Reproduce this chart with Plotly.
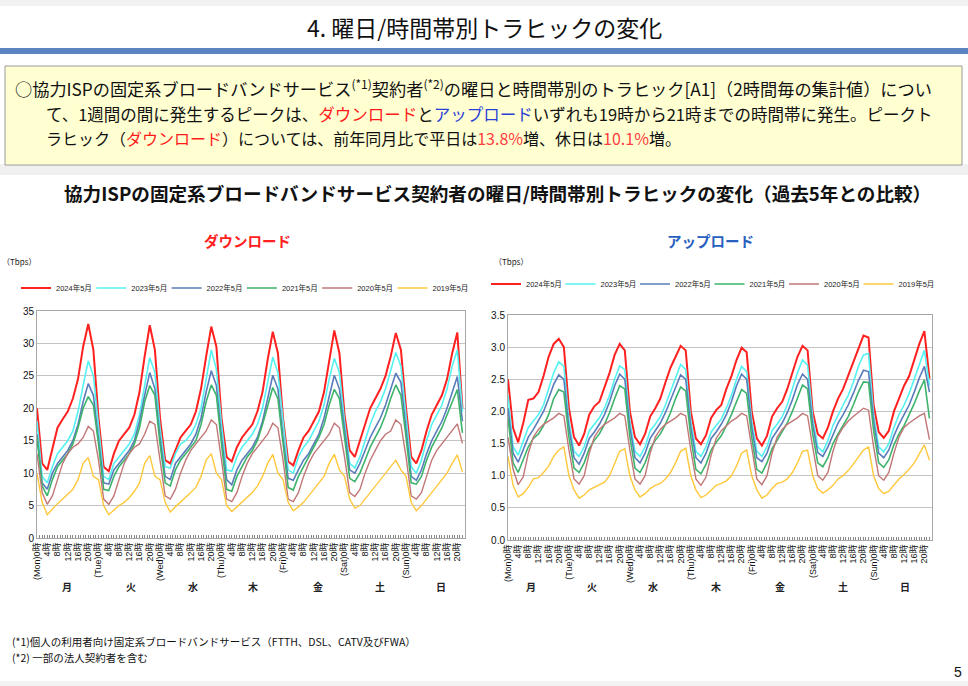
import plotly.graph_objects as go

W, H = 968, 686

YEARS = ["2024年5月", "2023年5月", "2022年5月", "2021年5月", "2020年5月", "2019年5月"]
COLORS = ["#ff2020", "#55f2f2", "#5a7cba", "#3db36b", "#c27777", "#ffc83c"]
WIDTHS = [2.0, 1.6, 1.6, 1.6, 1.4, 1.4]
DAYS_EN = ["Mon", "Tue", "Wed", "Thu", "Fri", "Sat", "Sun"]
DAYS_JP = ["月", "火", "水", "木", "金", "土", "日"]

# hour-of-week of each 2-hour aggregate
HOURS = list(range(0, 168, 2))
TICK_VALS = list(range(0, 168, 4))
TICK_TEXT = [("(" + DAYS_EN[h // 24] + ")0時") if h % 24 == 0 else (str(h % 24) + "時") for h in TICK_VALS]

# ---------------- Download (Tbps) ----------------
DL_2024 = [20, 11.5, 10.5, 14, 17, 18.3, 19.5, 21.5, 24.5, 29.5, 33, 29,
           18.5, 11, 10.3, 13, 15, 16, 17, 19, 22.5, 28, 32.8, 29,
           18.5, 12, 11.5, 13.5, 15.5, 16.5, 17.5, 19.5, 23, 28, 32.6, 29.5,
           18.5, 12.5, 11.8, 14, 15.5, 16.5, 17.5, 19.5, 22.5, 27.5, 31.8, 28.5,
           18.5, 11.8, 11.2, 13.5, 15.5, 16.5, 18, 19.5, 22.5, 27.5, 32, 28.5,
           19, 13.5, 12.5, 15, 17.5, 20, 21.5, 23, 25, 28, 31.6, 29,
           20, 12.5, 11.5, 13.5, 16.5, 19, 20.5, 22, 24.5, 28.5, 31.7, 20]
DL_2023 = [18, 9.5, 8.5, 11, 13, 14, 15, 16.5, 19.5, 23.5, 27.3, 25,
           17, 9.5, 9, 11.5, 12.5, 13.5, 14.5, 16, 19, 23.5, 27.8, 25.5,
           17, 11, 10.8, 13, 14.5, 15, 16, 17.5, 20, 24.5, 29, 26,
           17.5, 10.5, 10.3, 12.5, 14, 15, 16, 17.5, 20, 24, 27.9, 25.5,
           17.5, 10.5, 10, 12.5, 14, 15, 16.5, 18, 20.5, 24.5, 27.7, 25.5,
           18, 11.5, 10.8, 12.5, 15, 17.5, 19.5, 21, 23, 26, 28.6, 26.5,
           19, 11, 10, 12, 15, 17.5, 19, 20.5, 23, 26.5, 29, 19.5]
DL_2022 = [16, 8.5, 7.5, 10, 11.5, 12.5, 13.5, 15, 17.5, 21, 23.8, 22,
           15.5, 8.5, 8.3, 10.5, 11.5, 12.5, 13.5, 15, 18, 22, 25.5, 23,
           15.5, 9.5, 9, 11.5, 12.5, 13.5, 14.5, 16, 18.5, 22.5, 25.8, 23.5,
           15.5, 9, 8.2, 10.5, 12, 13, 14, 15.5, 18, 21.5, 25.1, 23,
           15.5, 9.2, 8.9, 10.5, 12, 13, 14.5, 16, 18.5, 22, 25.1, 23,
           16.5, 10.5, 10, 11.5, 13.5, 15.5, 17, 18.5, 20.5, 23, 25.4, 24,
           17, 9.5, 8.9, 10.5, 13, 15, 16.5, 18, 20, 22.5, 24.9, 18]
DL_2021 = [15.5, 8, 6.5, 9, 11, 12, 13, 14.5, 17, 20, 21.8, 20.5,
           14.5, 7.5, 7.3, 9.5, 11, 12, 13, 14.5, 17, 21, 23.5, 22,
           14.5, 8.5, 8, 10.5, 12, 13, 14, 15, 17.5, 21, 23.6, 22,
           14.5, 7.5, 7.2, 9.5, 11, 12.5, 13.5, 15, 17.5, 20.5, 23.2, 21.5,
           14.5, 7.8, 7.4, 9.5, 11, 12.5, 14, 15.5, 17.5, 20.5, 22.9, 21.5,
           15.5, 9.2, 8.7, 10, 12, 14, 15.5, 17, 19, 21.5, 23.6, 22,
           15.5, 8.5, 8.3, 9.5, 12, 14, 15.5, 17, 19, 21, 22.9, 16.2]
DL_2020 = [13, 7, 5.2, 6.5, 9, 11.5, 13, 14, 14.5, 15.5, 17.2, 16.5,
           12, 6, 5.2, 6.5, 9, 11.5, 13, 14, 14.5, 16, 18, 17.5,
           12, 6.5, 6, 7.5, 10, 12, 13.5, 14.5, 15.5, 16.5, 18.2, 17.5,
           12, 6, 5.6, 7, 9.5, 11.5, 13, 14, 15, 16, 17.7, 17,
           12, 6, 5.6, 7, 9.5, 11.5, 13, 14, 15, 16, 17.7, 17,
           12.5, 7, 6.4, 7.5, 10, 12, 13.5, 15, 16, 16.5, 18.2, 17.5,
           12.5, 6.5, 6, 7, 9.5, 12, 13.5, 14.5, 15.5, 16.5, 17.6, 14.6]
DL_2019 = [10, 5.5, 3.6, 4.5, 5.3, 6, 6.7, 7.5, 9, 11.5, 12.4, 9.5,
           9, 5, 3.6, 4.3, 5, 5.5, 6.2, 7.2, 8.5, 11.5, 12.7, 9.5,
           9, 5.5, 4, 4.8, 5.5, 6.2, 7, 7.8, 9.5, 12, 13, 10,
           9, 5, 4.1, 4.8, 5.5, 6.2, 7, 8, 9.5, 11.5, 12.9, 10,
           9, 5.5, 4.2, 4.8, 5.5, 6.5, 7.5, 8.5, 9.5, 11.5, 12.9, 10.5,
           9.5, 6, 4.6, 5, 6, 7, 8, 9, 10, 11, 12, 10.5,
           9.5, 5.5, 4.2, 5, 6, 7, 8, 9, 10, 11.5, 12.8, 10.2]

# ---------------- Upload (Tbps) ----------------
UL_2024 = [2.50, 1.74, 1.52, 1.82, 2.18, 2.20, 2.30, 2.55, 2.85, 3.05, 3.13, 3.00,
           2.05, 1.60, 1.47, 1.65, 1.95, 2.08, 2.15, 2.38, 2.60, 2.88, 3.05, 2.95,
           2.00, 1.60, 1.49, 1.65, 1.92, 2.05, 2.20, 2.45, 2.68, 2.85, 3.02, 2.95,
           2.00, 1.58, 1.49, 1.63, 1.90, 2.02, 2.10, 2.35, 2.55, 2.80, 2.99, 2.92,
           2.00, 1.58, 1.47, 1.62, 1.92, 2.05, 2.15, 2.35, 2.60, 2.85, 3.02, 2.95,
           2.00, 1.65, 1.58, 1.75, 2.00, 2.20, 2.35, 2.55, 2.75, 2.95, 3.18, 3.15,
           2.10, 1.68, 1.59, 1.70, 2.00, 2.20, 2.40, 2.55, 2.80, 3.05, 3.25, 2.51]
UL_2023 = [2.25, 1.45, 1.32, 1.55, 1.75, 1.85, 1.95, 2.10, 2.35, 2.60, 2.77, 2.70,
           1.85, 1.38, 1.30, 1.45, 1.70, 1.80, 1.90, 2.05, 2.25, 2.50, 2.71, 2.65,
           1.85, 1.38, 1.30, 1.45, 1.70, 1.80, 1.92, 2.10, 2.30, 2.50, 2.73, 2.65,
           1.85, 1.38, 1.30, 1.45, 1.68, 1.78, 1.88, 2.05, 2.25, 2.50, 2.70, 2.62,
           1.85, 1.38, 1.30, 1.45, 1.70, 1.80, 1.92, 2.10, 2.35, 2.60, 2.80, 2.72,
           1.90, 1.45, 1.37, 1.55, 1.78, 1.95, 2.10, 2.25, 2.45, 2.70, 2.88, 2.90,
           1.95, 1.45, 1.37, 1.50, 1.75, 1.95, 2.10, 2.28, 2.50, 2.75, 2.95, 2.40]
UL_2022 = [2.05, 1.35, 1.21, 1.40, 1.60, 1.72, 1.85, 2.00, 2.20, 2.42, 2.57, 2.50,
           1.75, 1.28, 1.18, 1.35, 1.58, 1.68, 1.80, 1.95, 2.15, 2.40, 2.58, 2.50,
           1.75, 1.28, 1.20, 1.35, 1.58, 1.70, 1.82, 1.98, 2.18, 2.40, 2.57, 2.50,
           1.75, 1.28, 1.20, 1.35, 1.58, 1.68, 1.80, 1.95, 2.15, 2.40, 2.58, 2.50,
           1.75, 1.28, 1.22, 1.35, 1.58, 1.70, 1.82, 1.98, 2.18, 2.42, 2.58, 2.50,
           1.80, 1.36, 1.30, 1.45, 1.65, 1.82, 1.95, 2.10, 2.28, 2.48, 2.64, 2.62,
           1.85, 1.35, 1.28, 1.40, 1.62, 1.80, 1.95, 2.10, 2.30, 2.52, 2.70, 2.30]
UL_2021 = [1.90, 1.20, 1.05, 1.25, 1.45, 1.58, 1.65, 1.78, 1.95, 2.20, 2.34, 2.30,
           1.60, 1.12, 1.05, 1.20, 1.42, 1.55, 1.65, 1.80, 1.98, 2.20, 2.40, 2.35,
           1.60, 1.12, 1.05, 1.20, 1.42, 1.55, 1.65, 1.80, 1.98, 2.20, 2.38, 2.32,
           1.60, 1.10, 1.03, 1.18, 1.40, 1.52, 1.62, 1.78, 1.95, 2.15, 2.34, 2.28,
           1.60, 1.10, 1.04, 1.20, 1.42, 1.55, 1.68, 1.82, 2.00, 2.22, 2.41, 2.35,
           1.65, 1.20, 1.14, 1.28, 1.50, 1.65, 1.78, 1.92, 2.10, 2.30, 2.46, 2.45,
           1.70, 1.20, 1.13, 1.25, 1.48, 1.65, 1.78, 1.95, 2.12, 2.32, 2.49, 1.89]
UL_2020 = [1.60, 1.10, 0.86, 0.98, 1.35, 1.60, 1.72, 1.80, 1.85, 1.90, 1.97, 1.93,
           1.40, 0.95, 0.87, 1.00, 1.35, 1.60, 1.72, 1.80, 1.85, 1.90, 1.97, 1.93,
           1.40, 0.95, 0.87, 1.00, 1.35, 1.60, 1.72, 1.80, 1.85, 1.90, 1.97, 1.93,
           1.40, 0.95, 0.85, 0.98, 1.32, 1.58, 1.70, 1.78, 1.85, 1.90, 1.97, 1.93,
           1.40, 0.95, 0.86, 1.00, 1.35, 1.60, 1.72, 1.80, 1.85, 1.90, 1.97, 1.93,
           1.45, 1.00, 0.93, 1.05, 1.38, 1.62, 1.75, 1.85, 1.92, 1.98, 2.05, 2.02,
           1.45, 1.00, 0.93, 1.05, 1.35, 1.60, 1.75, 1.82, 1.88, 1.93, 1.97, 1.56]
UL_2019 = [1.30, 0.85, 0.67, 0.72, 0.82, 0.95, 0.97, 1.05, 1.15, 1.30, 1.40, 1.45,
           1.00, 0.78, 0.65, 0.70, 0.78, 0.82, 0.85, 0.90, 1.00, 1.20, 1.38, 1.42,
           1.00, 0.78, 0.67, 0.72, 0.80, 0.85, 0.88, 0.95, 1.05, 1.20, 1.38, 1.43,
           1.00, 0.78, 0.66, 0.70, 0.78, 0.85, 0.88, 0.92, 1.00, 1.15, 1.35, 1.40,
           1.00, 0.78, 0.65, 0.70, 0.80, 0.88, 0.90, 0.95, 1.05, 1.20, 1.38, 1.40,
           1.00, 0.80, 0.73, 0.78, 0.85, 0.95, 1.00, 1.08, 1.18, 1.30, 1.40, 1.45,
           1.00, 0.80, 0.72, 0.76, 0.85, 0.95, 1.02, 1.10, 1.20, 1.35, 1.48, 1.24]

DOWNLOAD = [DL_2024, DL_2023, DL_2022, DL_2021, DL_2020, DL_2019]
UPLOAD = [UL_2024, UL_2023, UL_2022, UL_2021, UL_2020, UL_2019]

JP = "Noto Sans CJK JP, sans-serif"
NUM = "Liberation Sans, Arial, Noto Sans CJK JP, sans-serif"


def px(x):
    return x / W


def py(y):
    return 1 - y / H


fig = go.Figure()
legends = {}
for i in range(6):
    name = "legend" if i == 0 else "legend" + str(i + 1)
    fig.add_trace(go.Scatter(x=HOURS, y=DOWNLOAD[i], name=YEARS[i], mode="lines",
                             line=dict(color=COLORS[i], width=WIDTHS[i]),
                             xaxis="x", yaxis="y", legend=name))
    legends[name] = (16 + 75.3 * i, 288)
for i in range(6):
    name = "legend" + str(i + 7)
    fig.add_trace(go.Scatter(x=HOURS, y=UPLOAD[i], name=YEARS[i], mode="lines",
                             line=dict(color=COLORS[i], width=WIDTHS[i]),
                             xaxis="x2", yaxis="y2", legend=name))
    legends[name] = (486 + 74.5 * i, 284)

AX_LINE = "#a6a6a6"
GRID = "#c4c4c4"


def xaxis_cfg(x0, x1, anchor):
    return dict(domain=[px(x0), px(x1)], anchor=anchor, range=[0, 167],
                tickmode="array", tickvals=TICK_VALS, ticktext=TICK_TEXT,
                tickangle=-90, tickfont=dict(size=9, family=NUM, color="#111"),
                ticks="inside", ticklen=3, tickcolor="#888",
                minor=dict(tickmode="linear", tick0=0, dtick=1, ticks="inside",
                           ticklen=3, tickcolor="#888"),
                showline=True, linecolor=AX_LINE, linewidth=1, mirror=True,
                showgrid=False, zeroline=False, fixedrange=True, automargin=False)


def yaxis_cfg(y0, y1, anchor, rng, dtick, fmt):
    return dict(domain=[py(y1), py(y0)], anchor=anchor, range=rng, dtick=dtick,
                tickformat=fmt, tickfont=dict(size=10, family=NUM, color="#111"),
                showline=True, linecolor=AX_LINE, linewidth=1, mirror=True,
                showgrid=True, gridcolor=GRID, gridwidth=1, zeroline=False,
                ticks="", fixedrange=True, automargin=False)


layout_legends = {}
for name, (lx, ly) in legends.items():
    layout_legends[name] = dict(orientation="h", x=px(lx), y=py(ly),
                                xanchor="left", yanchor="middle",
                                font=dict(size=7.5, family=NUM, color="#222"),
                                bgcolor="rgba(0,0,0,0)", itemwidth=30)

fig.update_layout(
    width=W, height=H, autosize=False,
    margin=dict(l=0, r=0, t=0, b=0, pad=0, autoexpand=False),
    paper_bgcolor="white", plot_bgcolor="white",
    xaxis=xaxis_cfg(37, 465, "y"),
    yaxis=yaxis_cfg(311, 538, "x", [0, 35], 5, ""),
    xaxis2=xaxis_cfg(508, 932, "y2"),
    yaxis2=yaxis_cfg(315, 540, "x2", [0, 3.5], 0.5, ".1f"),
    showlegend=True,
    **layout_legends,
)

shapes = [
    dict(type="rect", xref="paper", yref="paper", x0=0, x1=1, y0=py(6), y1=1,
         fillcolor="#f2f2f2", line=dict(width=0), layer="below"),
    dict(type="rect", xref="paper", yref="paper", x0=0, x1=1, y0=py(54), y1=py(48),
         fillcolor="#5b84c1", line=dict(width=0), layer="below"),
    dict(type="rect", xref="paper", yref="paper", x0=0, x1=1, y0=py(175), y1=py(164),
         fillcolor="#f0f0f0", line=dict(width=0), layer="below"),
    dict(type="rect", xref="paper", yref="paper", x0=px(5), x1=px(962), y0=py(165), y1=py(66),
         fillcolor="#ffffd2", line=dict(width=1, color="#9a9a9a"), layer="below"),
    dict(type="rect", xref="paper", yref="paper", x0=0, x1=1, y0=0, y1=py(681),
         fillcolor="#f2f2f2", line=dict(width=0), layer="below"),
]

RED = "#ff1a1a"
BLUE = "#2a3fd6"
PCT = "#ff4040"

ann = [
    dict(text="4. 曜日/時間帯別トラヒックの変化", x=px(484), y=py(27),
         font=dict(size=23, family=JP, color="#111")),
    dict(text="○協力ISPの固定系ブロードバンドサービス<sup>(*1)</sup>契約者<sup>(*2)</sup>の曜日と時間帯別のトラヒック[A1]（2時間毎の集計値）につい",
         x=px(13), y=py(88), xanchor="left", font=dict(size=17.2, family=JP, color="#111")),
    dict(text="て、1週間の間に発生するピークは、<span style='color:" + RED + "'>ダウンロード</span>と<span style='color:" + BLUE + "'>アップロード</span>いずれも19時から21時までの時間帯に発生。ピークト",
         x=px(44), y=py(114), xanchor="left", font=dict(size=16.5, family=JP, color="#111")),
    dict(text="ラヒック（<span style='color:" + RED + "'>ダウンロード</span>）については、前年同月比で平日は<span style='color:" + PCT + "'>13.8%</span>増、休日は<span style='color:" + PCT + "'>10.1%</span>増。",
         x=px(44), y=py(138), xanchor="left", font=dict(size=16, family=JP, color="#111")),
    dict(text="<b>協力ISPの固定系ブロードバンドサービス契約者の曜日/時間帯別トラヒックの変化（過去5年との比較）</b>",
         x=px(497), y=py(193), font=dict(size=18.6, family=JP, color="#111")),
    dict(text="<b>ダウンロード</b>", x=px(248), y=py(240), font=dict(size=14.5, family=JP, color="#ff2020")),
    dict(text="<b>アップロード</b>", x=px(710), y=py(240), font=dict(size=14.5, family=JP, color="#2860c0")),
    dict(text="（Tbps）", x=px(0), y=py(261), xanchor="left", font=dict(size=8, family=JP, color="#222")),
    dict(text="（Tbps）", x=px(492), y=py(261), xanchor="left", font=dict(size=8, family=JP, color="#222")),
    dict(text="(*1)個人の利用者向け固定系ブロードバンドサービス（FTTH、DSL、CATV及びFWA）",
         x=px(10), y=py(641), xanchor="left", font=dict(size=10.5, family=JP, color="#111")),
    dict(text="(*2) 一部の法人契約者を含む",
         x=px(10), y=py(657), xanchor="left", font=dict(size=10.5, family=JP, color="#111")),
    dict(text="5", x=px(958), y=py(672), font=dict(size=14, family=NUM, color="#111")),
]
for a in ann:
    a.update(xref="paper", yref="paper", showarrow=False)
    a.setdefault("xanchor", "center")
    a["yanchor"] = "middle"

DAY_POS_L = [11.7, 36.7, 60.9, 84.3, 109.6, 133.8, 157.6]
DAY_POS_R = [9.0, 33.0, 57.1, 81.9, 107.0, 132.0, 156.4]
for k, d in enumerate(DAYS_JP):
    ann.append(dict(text="<b>" + d + "</b>", xref="x", yref="paper", x=DAY_POS_L[k],
                    y=py(596), showarrow=False, font=dict(size=10, family=JP, color="#222")))
    ann.append(dict(text="<b>" + d + "</b>", xref="x2", yref="paper", x=DAY_POS_R[k],
                    y=py(596), showarrow=False, font=dict(size=10, family=JP, color="#222")))

fig.update_layout(shapes=shapes, annotations=ann)

fig.write_html("out.html", config={"displayModeBar": False, "responsive": False},
               default_width="968px", default_height="686px",
               post_script="document.body.style.margin='0';document.body.style.overflow='hidden';")
